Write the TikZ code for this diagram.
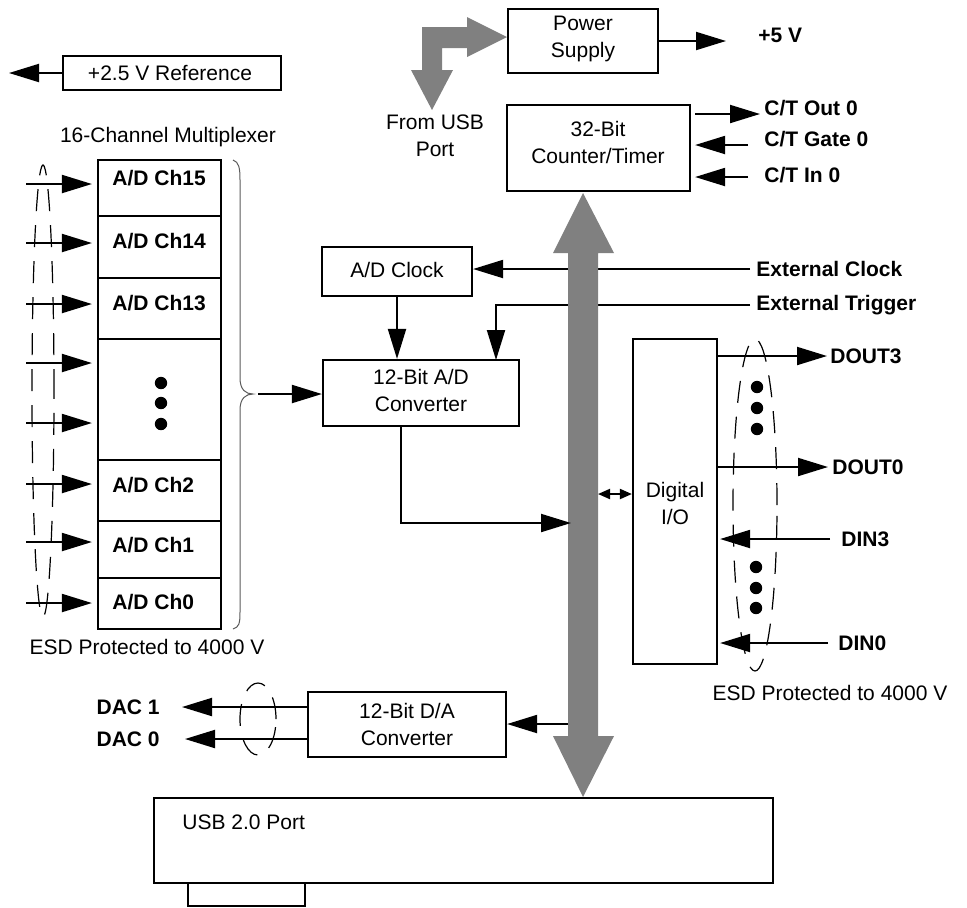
\documentclass[tikz,border=0pt]{standalone}
\usepackage{fontspec}
\setmainfont{Liberation Sans}
\usetikzlibrary{arrows.meta,fit}
\definecolor{busgray}{RGB}{128,128,128}
\definecolor{bracegray}{RGB}{90,90,90}
\begin{document}
\begin{tikzpicture}[x=0.5pt,y=-0.5pt,
  font=\fontsize{10.5}{13.5}\selectfont,
  box/.style={draw, line width=1.1pt, inner sep=0pt},
  lbl/.style={font=\fontsize{10.5}{13.5}\selectfont\bfseries, inner sep=2pt},
  txt/.style={inner sep=0pt, align=center},
  arr/.style={line width=1pt, -{Triangle[length=15pt,width=9pt]}},
  dbl/.style={line width=1pt, {Triangle[length=6pt,width=5pt]}-{Triangle[length=6pt,width=5pt]}},
  esd/.style={line width=0.6pt, dash pattern=on 11pt off 7pt},
  blob/.style={circle, fill, inner sep=0pt, minimum size=6.2pt}]
\useasboundingbox (0,0) rectangle (967,907);

% +2.5 V reference
\node[box, fit={(63,56) (281,90)}] (ref) {};
\node[txt] (reftxt) at (170,73) {+2.5 V Reference};
\coordinate (refout) at (9,73);
\draw[arr] (ref.west) -- (refout);

% multiplexer
\node[txt] (muxt) at (168,137) {16-Channel Multiplexer};
\node[box, fit={(98,160) (221,216)}] (r15) {};
\node[box, fit={(98,216) (221,278)}] (r14) {};
\node[box, fit={(98,278) (221,339)}] (r13) {};
\node[box, fit={(98,339) (221,460)}] (rdots) {};
\node[box, fit={(98,460) (221,521)}] (r2) {};
\node[box, fit={(98,521) (221,578)}] (r1) {};
\node[box, fit={(98,578) (221,629)}] (r0) {};
\node[lbl, anchor=west, inner sep=0pt] (l15) at (112,178) {A/D Ch15};
\node[lbl, anchor=west, inner sep=0pt] (l14) at (112,241) {A/D Ch14};
\node[lbl, anchor=west, inner sep=0pt] (l13) at (112,303) {A/D Ch13};
\node[lbl, anchor=west, inner sep=0pt] (l2) at (112,485) {A/D Ch2};
\node[lbl, anchor=west, inner sep=0pt] (l1) at (112,545) {A/D Ch1};
\node[lbl, anchor=west, inner sep=0pt] (l0) at (112,602) {A/D Ch0};
\node[blob] (md1) at (161,383) {};
\node[blob] (md2) at (161,403) {};
\node[blob] (md3) at (161,424) {};

\coordinate (in15) at (26,184);
\coordinate (in14) at (26,243);
\coordinate (in13) at (26,304);
\coordinate (ina) at (26,363);
\coordinate (inb) at (26,423);
\coordinate (in2) at (26,484);
\coordinate (in1) at (26,542);
\coordinate (in0) at (26,603);
\foreach \c/\r in {in15/r15,in14/r14,in13/r13,ina/rdots,inb/rdots,in2/r2,in1/r1,in0/r0}
  \draw[arr, shorten >=2.5pt] (\c) -- (\c -| \r.west);
\draw[esd] (43,391) ellipse [x radius=5.5pt, y radius=113pt];
\node[txt] (esdl) at (147,647) {ESD Protected to 4000 V};

% brace
\draw[bracegray, line width=0.5pt] (233,160) .. controls (239,162) and (240,168) .. (240,180)
  -- (240,378) .. controls (240,390) and (246,394) .. (253,394)
  .. controls (246,394) and (240,398) .. (240,410)
  -- (240,612) .. controls (240,624) and (239,627) .. (233,629);
\coordinate (brtip) at (258,394);

% A/D clock and converter
\node[box, fit={(322,247) (472,296)}] (clk) {};
\node[txt] (clktxt) at (397,270) {A/D Clock};
\node[box, fit={(323,360) (519,426)}] (adc) {};
\node[txt] (adctxt) at (421,390) {12-Bit A/D\\Converter};
\draw[arr] (brtip) -- (brtip -| adc.west);
\draw[arr] (clk.south) -- (clk.south |- adc.north);
\node[lbl, anchor=west, inner sep=0pt] (extclk) at (756,269) {External Clock};
\node[lbl, anchor=west, inner sep=0pt] (exttrg) at (756,305) {External Trigger};
\coordinate (trgin) at (496,360);
\draw[arr, shorten <=3pt] (extclk.west) -- (extclk.west -| clk.east);
\draw[arr, shorten <=3pt] (exttrg.west) -| (trgin);

% bus
\fill[busgray] (568,253) -- (553,253) -- (583,193) -- (614,253) -- (598,253)
  -- (598,736) -- (614,736) -- (583,797) -- (553,736) -- (568,736) -- cycle;
\coordinate (adcout) at (401,426);
\coordinate (busin) at (571,523);
\draw[arr] (adcout) |- (busin);

% power supply
\node[box, fit={(508,9) (658,73)}] (psu) {};
\node[txt] (psutxt) at (583,39) {Power\\Supply};
\coordinate (p5v) at (726,41);
\draw[arr] (psu.east) -- (p5v);
\node[lbl, anchor=west, inner sep=0pt] (p5) at (758,35) {+5 V};

% USB input arrow
\fill[busgray] (422,27) -- (467,27) -- (467,17) -- (507,37) -- (467,57) -- (467,48)
  -- (442,48) -- (442,70) -- (453,70) -- (432,110) -- (411,70) -- (422,70) -- cycle;
\node[txt] (fromusb) at (435,136) {From USB\\Port};

% counter/timer
\node[box, fit={(507,105) (690,191)}] (ct) {};
\node[txt] (cttxt) at (598,142) {32-Bit\\Counter/Timer};
\coordinate (ctout) at (760,114);
\coordinate (ctgate) at (748,145);
\coordinate (ctin) at (748,177);
\draw[arr, shorten <=2pt] (ctout -| ct.east) -- (ctout);
\draw[arr, shorten >=2pt] (ctgate) -- (ctgate -| ct.east);
\draw[arr, shorten >=2pt] (ctin) -- (ctin -| ct.east);
\node[lbl, anchor=west, inner sep=0pt] (ctoutl) at (764,108) {C/T Out 0};
\node[lbl, anchor=west, inner sep=0pt] (ctgatel) at (764,139) {C/T Gate 0};
\node[lbl, anchor=west, inner sep=0pt] (ctinl) at (764,175) {C/T In 0};

% digital I/O
\node[box, fit={(633,339) (717,664)}] (dio) {};
\node[txt] (diotxt) at (675,503) {Digital\\I/O};
\coordinate (busdio) at (598,494);
\draw[dbl] (busdio) -- (busdio -| dio.west);
\coordinate (do3) at (827,356);
\coordinate (do0) at (828,467);
\coordinate (di3) at (830,539);
\coordinate (di0) at (828,643);
\draw[arr] (do3 -| dio.east) -- (do3);
\draw[arr] (do0 -| dio.east) -- (do0);
\draw[arr, shorten >=1pt] (di3) -- (di3 -| dio.east);
\draw[arr, shorten >=1pt] (di0) -- (di0 -| dio.east);
\node[lbl, anchor=west, inner sep=0pt] (dout3) at (830,356) {DOUT3};
\node[lbl, anchor=west, inner sep=0pt] (dout0) at (832,467) {DOUT0};
\node[lbl, anchor=west, inner sep=0pt] (din3) at (841,539) {DIN3};
\node[lbl, anchor=west, inner sep=0pt] (din0) at (838,643) {DIN0};
\node[blob] (dd1) at (757,387) {};
\node[blob] (dd2) at (757,408) {};
\node[blob] (dd3) at (757,429) {};
\node[blob] (dd4) at (756,567) {};
\node[blob] (dd5) at (756,588) {};
\node[blob] (dd6) at (756,608) {};
\draw[esd] (755,505) ellipse [x radius=11pt, y radius=83pt];
\node[txt] (esdr) at (830,693) {ESD Protected to 4000 V};

% D/A converter
\node[box, fit={(308,692) (506,757)}] (dac) {};
\node[txt] (dactxt) at (407,724) {12-Bit D/A\\Converter};
\coordinate (busdac) at (568,724);
\draw[arr] (busdac) -- (busdac -| dac.east);
\coordinate (dac1tip) at (182,707);
\coordinate (dac0tip) at (185,739);
\draw[arr] (dac1tip -| dac.west) -- (dac1tip);
\draw[arr] (dac0tip -| dac.west) -- (dac0tip);
\node[lbl, anchor=east, inner sep=0pt] (dac1) at (160,707) {DAC 1};
\node[lbl, anchor=east, inner sep=0pt] (dac0) at (160,739) {DAC 0};
\draw[esd] (258,719) ellipse [x radius=9pt, y radius=18pt];

% USB port
\node[box, fit={(154,798) (773,883)}] (usb) {};
\node[txt, anchor=west] (usbtxt) at (182,822) {USB 2.0 Port};
\node[box, fit={(188,883) (305,906)}] (tab) {};
\end{tikzpicture}
\end{document}
